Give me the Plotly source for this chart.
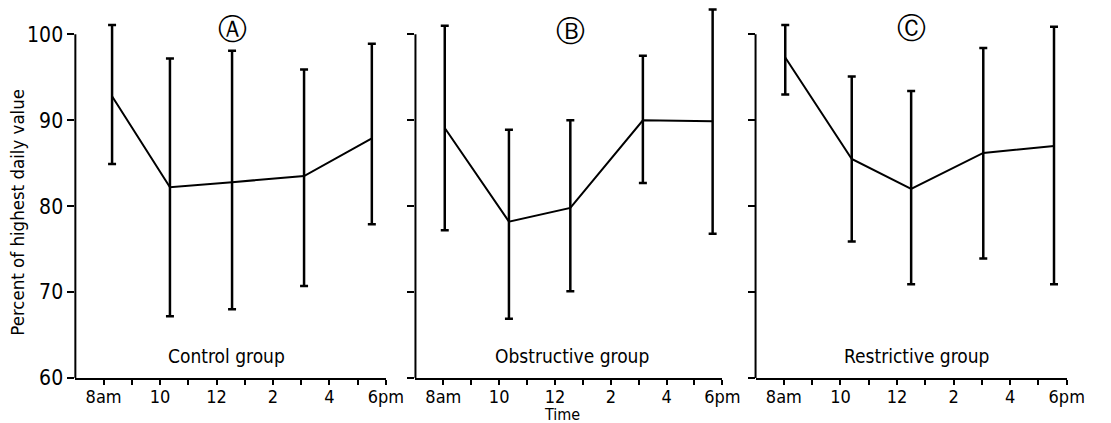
import plotly.graph_objects as go
import numpy as np

# ---- data ----
hour_ticks = [8, 9, 10, 11, 12, 13, 14, 15, 16, 17, 18]
hour_labels = ["8am", "", "10", "", "12", "", "2", "", "4", "", "6pm"]
y_ticks = [60, 70, 80, 90, 100]

hours_A = [8.3, 10.35, 12.55, 15.1, 17.5]
mean_A = [92.8, 82.2, 82.8, 83.5, 87.9]
upper_A = [101.1, 97.2, 98.1, 95.9, 98.9]
lower_A = [84.9, 67.2, 68.0, 70.7, 77.9]

hours_B = [8.05, 10.35, 12.55, 15.15, 17.65]
mean_B = [89.1, 78.2, 79.8, 90.0, 89.9]
upper_B = [101.0, 88.9, 90.0, 97.5, 102.9]
lower_B = [77.2, 66.9, 70.1, 82.7, 76.8]

hours_C = [8.05, 10.4, 12.5, 15.05, 17.55]
mean_C = [97.3, 85.5, 82.0, 86.2, 87.0]
upper_C = [101.1, 95.1, 93.4, 98.4, 100.9]
lower_C = [93.0, 75.9, 70.9, 73.9, 70.9]

panel_marks = ["Ⓐ", "Ⓑ", "Ⓒ"]
group_names = ["Control group", "Obstructive group", "Restrictive group"]

FONT = "DejaVu Sans Condensed, Liberation Sans Narrow, Open Sans, sans-serif"
W = 1111
domains = [[76.6 / W, 392.3 / W], [422.3 / W, 734.3 / W], [768 / W, 1084.3 / W]]

fig = go.Figure()
series = [
    (hours_A, mean_A, upper_A, lower_A),
    (hours_B, mean_B, upper_B, lower_B),
    (hours_C, mean_C, upper_C, lower_C),
]
for i, (h, m, u, l) in enumerate(series):
    m_ = np.array(m)
    xa = "x" if i == 0 else f"x{i+1}"
    ya = "y" if i == 0 else f"y{i+1}"
    fig.add_trace(go.Scatter(
        x=h, y=m, mode="lines", xaxis=xa, yaxis=ya,
        line=dict(color="black", width=2),
        error_y=dict(type="data", symmetric=False,
                     array=list(np.array(u) - m_), arrayminus=list(m_ - np.array(l)),
                     color="black", thickness=2.5, width=4),
        showlegend=False, hoverinfo="skip",
    ))

layout = dict(
    width=1111, height=423,
    margin=dict(l=0, r=0, t=0, b=45),
    paper_bgcolor="white", plot_bgcolor="white",
    font=dict(family=FONT, color="black"),
    showlegend=False,
)
for i in range(3):
    xk = "xaxis" if i == 0 else f"xaxis{i+1}"
    yk = "yaxis" if i == 0 else f"yaxis{i+1}"
    ya = "y" if i == 0 else f"y{i+1}"
    xa = "x" if i == 0 else f"x{i+1}"
    layout[xk] = dict(
        domain=domains[i], range=[7, 18], anchor=ya,
        tickvals=hour_ticks, ticktext=hour_labels,
        ticks="outside", ticklen=5, tickwidth=2, tickcolor="black",
        ticklabelstandoff=-4,
        showline=True, linecolor="black", linewidth=2,
        showgrid=False, zeroline=False,
        tickfont=dict(size=18, family=FONT, color="black"),
    )
    layout[yk] = dict(
        domain=[0, 1], range=[60, 104], anchor=xa,
        tickvals=y_ticks, ticks="outside", ticklen=7, tickwidth=2, tickcolor="black",
        showticklabels=(i == 0), showline=False,
        showgrid=False, zeroline=False,
        tickfont=dict(size=21, family=FONT, color="black"),
    )
fig.update_layout(**layout)

for i in range(3):
    xa = "x" if i == 0 else f"x{i+1}"
    ya = "y" if i == 0 else f"y{i+1}"
    fig.add_shape(type="line", xref=f"{xa} domain", yref=ya, x0=0, x1=0, y0=60, y1=100,
                  line=dict(color="black", width=2))

# panel marks
mark_px = [(236.7, 29), (580, 30.7), (926.7, 28.3)]
for (px, py), t in zip(mark_px, panel_marks):
    fig.add_annotation(text=t, x=px / W, y=(378 - py) / 378, xref="paper", yref="paper",
                       showarrow=False, font=dict(size=29, family="DejaVu Sans", color="black"),
                       xanchor="center", yanchor="middle")

# group names
group_pos = [0.486, 0.509, 0.516]
for i, (g, gx) in enumerate(zip(group_names, group_pos)):
    xa = "x" if i == 0 else f"x{i+1}"
    fig.add_annotation(text=g, x=gx, y=(378 - 356) / 378, xref=f"{xa} domain", yref="paper",
                       showarrow=False, font=dict(size=19, family=FONT, color="black"),
                       xanchor="center", yanchor="middle")

# axis titles
fig.add_annotation(text="Percent of highest daily value", x=17 / W, y=(378 - 212) / 378,
                   xref="paper", yref="paper", textangle=-90, showarrow=False,
                   font=dict(size=18.5, family=FONT, color="black"),
                   xanchor="center", yanchor="middle")
fig.add_annotation(text="Time", x=571 / W, y=(378 - 414) / 378,
                   xref="paper", yref="paper", showarrow=False,
                   font=dict(size=16, family=FONT, color="black"),
                   xanchor="center", yanchor="middle")

fig.write_html("out.html", config={"displayModeBar": False},
               post_script="document.body.style.margin='0px';document.body.style.overflow='hidden';")
